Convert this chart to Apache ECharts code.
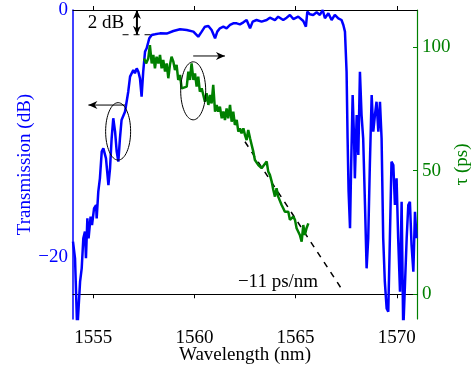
<!DOCTYPE html>
<html>
<head>
<meta charset="utf-8">
<script src="https://cdn.jsdelivr.net/npm/echarts@6/dist/echarts.min.js"></script>
<style>
  html, body { margin: 0; padding: 0; background: #fff; }
  #chart { width: 473px; height: 368px; }
</style>
</head>
<body>
<div id="chart"></div>
<script>
// transmission (dB) vs wavelength (nm)
const wlT = [1554.00,1554.10,1554.21,1554.35,1554.43,1554.51,1554.59,1554.64,1554.71,1554.77,1554.87,1554.94,1555.04,1555.14,1555.17,1555.25,1555.33,1555.42,1555.50,1555.63,1555.75,1555.83,1555.91,1555.99,1556.08,1556.16,1556.24,1556.32,1556.40,1556.49,1556.57,1556.73,1556.82,1556.90,1556.98,1557.06,1557.15,1557.23,1557.31,1557.39,1557.47,1557.56,1557.64,1557.77,1557.89,1558.05,1558.30,1558.63,1558.96,1559.29,1559.62,1559.95,1560.19,1560.36,1560.52,1560.69,1560.85,1561.02,1561.13,1561.26,1561.43,1561.59,1561.76,1561.92,1562.09,1562.25,1562.42,1562.58,1562.75,1562.88,1563.07,1563.32,1563.57,1563.73,1563.98,1564.14,1564.39,1564.56,1564.72,1564.89,1565.13,1565.38,1565.51,1565.58,1565.71,1565.87,1566.04,1566.20,1566.34,1566.45,1566.62,1566.78,1566.94,1567.11,1567.27,1567.36,1567.44,1567.52,1567.57,1567.62,1567.69,1567.74,1567.82,1567.89,1567.93,1568.02,1568.10,1568.18,1568.26,1568.34,1568.43,1568.51,1568.59,1568.67,1568.76,1568.84,1568.92,1569.00,1569.09,1569.17,1569.25,1569.33,1569.41,1569.50,1569.58,1569.66,1569.74,1569.83,1569.91,1569.99,1570.07,1570.16,1570.24,1570.32,1570.40,1570.49,1570.57,1570.65,1570.73,1570.82,1570.90,1570.98];
const trans = [-18.74,-20.09,-26,-21.98,-20.90,-18.47,-17.93,-20.09,-16.86,-18.47,-16.72,-17.40,-16.05,-15.78,-16.86,-14.70,-13.62,-11.46,-11.19,-12.00,-14.16,-12.81,-10.38,-8.76,-9.84,-11.46,-12.27,-10.38,-8.90,-9.03,-8.23,-6.61,-5.39,-5.26,-4.85,-5.12,-4.72,-4.99,-5.53,-7.01,-4.99,-3.37,-3.10,-2.29,-2.02,-1.97,-1.89,-1.91,-1.70,-1.56,-1.62,-1.75,-2.16,-1.75,-1.35,-1.29,-1.62,-2.29,-1.75,-1.48,-1.35,-1.48,-1.21,-1.08,-1.08,-1.16,-1.00,-0.81,-1.48,-0.94,-0.81,-0.94,-0.81,-0.62,-0.81,-0.54,-0.81,-0.62,-0.40,-0.73,-0.54,-0.89,-1.35,-0.13,-0.35,-0.40,-0.19,-0.40,0.00,-0.67,-0.27,-0.81,-0.40,-0.67,-0.81,-1.21,-1.75,-4.99,-10.38,-14.70,-17.66,-13.08,-6.88,-10.38,-13.62,-8.50,-11.73,-4.99,-8.50,-10.38,-15.78,-20.90,-18.47,-12.54,-6.88,-9.84,-8.50,-7.42,-9.84,-7.42,-10.38,-18.47,-21.98,-24.14,-24.41,-18.47,-12.27,-12.54,-15.78,-13.62,-18.47,-22.79,-15.51,-26,-26,-18.47,-15.78,-15.51,-19.01,-21.17,-16.32,-18.47];

// group delay tau (ps)
const wlD = [1557.51,1557.61,1557.72,1557.80,1557.89,1557.97,1558.05,1558.13,1558.22,1558.30,1558.38,1558.46,1558.55,1558.63,1558.71,1558.79,1558.87,1558.96,1559.04,1559.12,1559.20,1559.29,1559.37,1559.45,1559.62,1559.70,1559.78,1559.86,1559.95,1560.03,1560.11,1560.19,1560.27,1560.36,1560.44,1560.52,1560.60,1560.69,1560.77,1560.85,1560.93,1561.02,1561.10,1561.18,1561.26,1561.35,1561.43,1561.51,1561.59,1561.67,1561.76,1561.84,1561.92,1562.00,1562.09,1562.17,1562.25,1562.33,1562.42,1562.50,1562.58,1562.66,1562.75,1562.83,1562.91,1562.99,1563.07,1563.16,1563.24,1563.32,1563.40,1563.57,1563.65,1563.73,1563.82,1563.90,1563.98,1564.06,1564.14,1564.23,1564.31,1564.39,1564.47,1564.56,1564.64,1564.72,1564.80,1564.89,1564.97,1565.05,1565.13,1565.21,1565.30,1565.38,1565.46,1565.54,1565.63];
const tau = [95.4,93.4,95.4,100.8,93.4,96.8,91.4,96.1,93.4,96.8,91.4,94.8,90.1,93.4,87.4,92.8,96.1,94.1,90.7,92.8,86.7,88.7,83.3,84.0,84.0,90.1,86.7,93.4,86.7,89.4,84.0,88.0,82.0,83.3,80.6,77.9,81.3,76.6,80.6,77.2,84.7,73.9,76.6,73.9,75.9,71.2,73.9,70.5,75.2,71.2,76.6,69.8,73.9,68.5,70.5,65.8,67.1,65.1,67.1,64.4,62.4,66.5,63.1,60.4,57.7,54.3,53.7,52.3,53.0,51.0,51.6,53.7,49.6,48.3,45.6,42.2,39.5,42.9,39.5,38.8,36.1,34.8,33.4,32.8,33.4,30.1,29.4,31.4,30.1,26.7,27.4,24.0,21.3,28.0,24.0,26.7,28.7];

// linear fit (dashed)
const fitWl = [1562.5, 1567.36];
const fitTau = [61.7, 1.1];

const xTicks = [1555, 1560, 1565, 1570];
const leftTicks = [-20, 0];
const rightTicks = [0, 50, 100];

const BLUE = '#0000ff';
const GREEN = '#008000';
const FONT = 'Liberation Serif';
const FS = 19;

const zip = (a, b) => a.map((v, i) => [v, b[i]]);

var myChart = echarts.init(document.getElementById('chart'));
var option = {
    animation: false,
    grid: { left: 73, right: 56, top: 10, bottom: 49, outerBoundsMode: 'none', containLabel: false },
    xAxis: [
        {
            type: 'value', min: 1554, max: 1571, position: 'bottom',
            name: 'Wavelength (nm)', nameLocation: 'middle', nameGap: 27, nameMoveOverlap: false,
            nameTextStyle: { fontFamily: FONT, fontSize: FS, color: '#000' },
            axisLine: { lineStyle: { color: '#000', width: 1 } },
            axisTick: { inside: true, length: 4, customValues: xTicks, lineStyle: { color: '#000' } },
            axisLabel: { customValues: xTicks, fontFamily: FONT, fontSize: FS, color: '#000', margin: 10,
                formatter: v => String(v) },
            splitLine: { show: false }
        },
        {
            type: 'value', min: 1554, max: 1571, position: 'top',
            axisLine: { lineStyle: { color: '#000', width: 1 } },
            axisTick: { inside: true, length: 4, customValues: xTicks, lineStyle: { color: '#000' } },
            axisLabel: { show: false },
            splitLine: { show: false }
        }
    ],
    yAxis: [
        {
            type: 'value', min: -25, max: 0, position: 'left',
            name: 'Transmission (dB)', nameLocation: 'middle', nameGap: 38, nameMoveOverlap: false,
            nameTextStyle: { fontFamily: FONT, fontSize: FS, color: BLUE },
            axisLine: { show: true, lineStyle: { color: BLUE, width: 1.5 } },
            axisTick: { show: false },
            axisLabel: { customValues: leftTicks, fontFamily: FONT, fontSize: FS, color: BLUE, margin: 5,
                formatter: v => String(v).replace('-', '\u2212') },
            splitLine: { show: false }
        },
        {
            type: 'value', min: -10, max: 115, position: 'right',
            name: '\u03c4 (ps)', nameLocation: 'middle', nameGap: 36, nameMoveOverlap: false,
            nameTextStyle: { fontFamily: FONT, fontSize: FS, color: GREEN },
            axisLine: { show: true, lineStyle: { color: GREEN, width: 1.2 } },
            axisTick: { inside: true, length: 4, customValues: rightTicks, lineStyle: { color: GREEN } },
            axisLabel: { customValues: rightTicks, fontFamily: FONT, fontSize: FS, color: GREEN, margin: 5 },
            splitLine: { show: false }
        }
    ],
    series: [
        {
            name: 'transmission', type: 'line', xAxisIndex: 0, yAxisIndex: 0,
            data: zip(wlT, trans), showSymbol: false, symbol: 'none',
            lineStyle: { color: BLUE, width: 2.5 }, z: 3
        },
        {
            name: 'delay', type: 'line', xAxisIndex: 0, yAxisIndex: 1,
            data: zip(wlD, tau), showSymbol: false, symbol: 'none',
            lineStyle: { color: GREEN, width: 2.5 }, z: 4
        },
        {
            name: 'fit', type: 'line', xAxisIndex: 0, yAxisIndex: 1,
            data: zip(fitWl, fitTau), showSymbol: false, symbol: 'none',
            lineStyle: { color: '#000', width: 1.5, type: [6, 6] }, z: 2
        }
    ]
};
myChart.setOption(option);

// annotations, placed from data coordinates
const toDb = p => myChart.convertToPixel({ xAxisIndex: 0, yAxisIndex: 0 }, p);
const toPs = p => myChart.convertToPixel({ xAxisIndex: 0, yAxisIndex: 1 }, p);

function arrowHead(tip, from, len, half) {
    const dx = tip[0] - from[0], dy = tip[1] - from[1];
    const d = Math.sqrt(dx * dx + dy * dy);
    const ux = dx / d, uy = dy / d;
    const bx = tip[0] - ux * len, by = tip[1] - uy * len;
    const mx = tip[0] - ux * len * 0.7, my = tip[1] - uy * len * 0.7;
    return {
        type: 'polygon',
        shape: { points: [tip, [bx - uy * half, by + ux * half], [mx, my], [bx + uy * half, by - ux * half]] },
        style: { fill: '#000' }, z: 10
    };
}
function arrow(a, b, both, w) {
    const els = [{ type: 'line', shape: { x1: a[0], y1: a[1], x2: b[0], y2: b[1] }, style: { stroke: '#000', lineWidth: w || 1 }, z: 10 },
        arrowHead(b, a, 9, 4)];
    if (both) els.push(arrowHead(a, b, 9, 4));
    return els;
}

const el1 = toDb([1556.23, -9.82]);
const el2 = toPs([1559.94, 82.3]);
const la0 = toDb([1556.57, -7.69]), la1 = toDb([1554.76, -7.69]);
const ra0 = toPs([1559.94, 96.4]), ra1 = toPs([1561.51, 96.4]);
const dbTop = toDb([1557.16, 0]), dbBot = toDb([1557.16, -2]);
const dbL = toDb([1556.45, -2]), dbR = toDb([1557.83, -2]);
const txt2 = toDb([1555.63, -1.09]);
const txtFit = toPs([1564.13, 5.1]);

const graphics = [
    { type: 'ellipse', shape: { cx: el1[0], cy: el1[1], rx: 12.5, ry: 28.7 }, style: { stroke: '#000', fill: 'none', lineWidth: 1 }, z: 10 },
    { type: 'ellipse', shape: { cx: el2[0], cy: el2[1], rx: 12.5, ry: 29 }, style: { stroke: '#000', fill: 'none', lineWidth: 1 }, z: 10 },
    { type: 'line', shape: { x1: dbL[0], y1: dbL[1], x2: dbR[0], y2: dbR[1] }, style: { stroke: '#000', lineWidth: 1, lineDash: [6, 5] }, z: 10 },
    { type: 'text', x: txt2[0], y: txt2[1], style: { text: '2 dB', font: FS + 'px "Liberation Serif"', fill: '#000', align: 'center', verticalAlign: 'middle' }, z: 10 },
    { type: 'text', x: txtFit[0], y: txtFit[1], style: { text: '\u221211 ps/nm', font: FS + 'px "Liberation Serif"', fill: '#000', align: 'center', verticalAlign: 'middle' }, z: 10 }
].concat(arrow(la0, la1, false), arrow(ra0, ra1, false), arrow(dbBot, dbTop, true, 2));

myChart.setOption({ graphic: graphics });
</script>
</body>
</html>
